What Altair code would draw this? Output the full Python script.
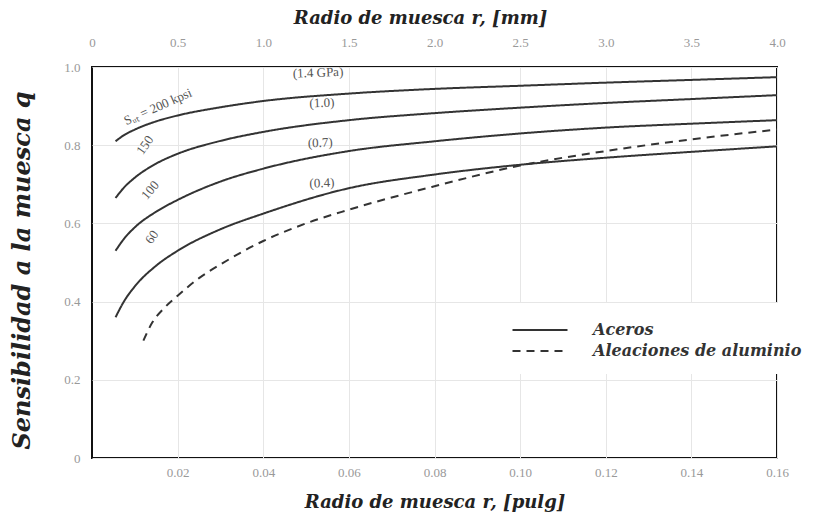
import altair as alt
import pandas as pd

# ---- data ----
r_steel = [0.0055, 0.0075, 0.01, 0.015, 0.02, 0.03, 0.04, 0.06, 0.08, 0.10, 0.12, 0.14, 0.16]
q_200 = [0.81, 0.826, 0.840, 0.861, 0.876, 0.897, 0.913, 0.932, 0.944, 0.952, 0.96, 0.967, 0.974]
q_150 = [0.665, 0.692, 0.717, 0.753, 0.778, 0.811, 0.834, 0.864, 0.882, 0.896, 0.908, 0.918, 0.928]
q_100 = [0.53, 0.561, 0.59, 0.63, 0.66, 0.707, 0.74, 0.785, 0.81, 0.83, 0.845, 0.855, 0.864]
q_60 = [0.36, 0.401, 0.439, 0.492, 0.53, 0.585, 0.625, 0.69, 0.725, 0.75, 0.768, 0.783, 0.797]

r_alum = [0.012, 0.014, 0.017, 0.02, 0.025, 0.03, 0.04, 0.05, 0.06, 0.08, 0.10, 0.12, 0.14, 0.16]
q_alum = [0.30, 0.345, 0.385, 0.415, 0.46, 0.495, 0.555, 0.60, 0.635, 0.695, 0.748, 0.785, 0.815, 0.84]

curve_names = ["200", "150", "100", "60"]
label_texts = ["Sᵤₜ = 200 kpsi", "150", "100", "60", "(1.4 GPa)", "(1.0)", "(0.7)", "(0.4)"]
label_r = [0.0154, 0.0124, 0.0136, 0.014, 0.0528, 0.0537, 0.0533, 0.0537]
label_q = [0.898, 0.80, 0.685, 0.565, 0.985, 0.908, 0.806, 0.703]
label_angle = [336, 305, 310, 305, 358, 358, 358, 358]

x_ticks_in = [0.02, 0.04, 0.06, 0.08, 0.10, 0.12, 0.14, 0.16]
x_ticks_mm = [0, 0.5, 1.0, 1.5, 2.0, 2.5, 3.0, 3.5, 4.0]
y_ticks = [0, 0.2, 0.4, 0.6, 0.8, 1.0]

rows = []
for name, qs in zip(curve_names, [q_200, q_150, q_100, q_60]):
    for r, q in zip(r_steel, qs):
        rows.append({"r": r, "q": q, "curve": name, "tipo": "Aceros"})
for r, q in zip(r_alum, q_alum):
    rows.append({"r": r, "q": q, "curve": "al", "tipo": "Aleaciones de aluminio"})
df = pd.DataFrame(rows)

lab_df = pd.DataFrame({"r": label_r, "q": label_q, "t": label_texts, "ang": label_angle})
mm_df = pd.DataFrame({"mm": [0.0, 4.0]})

TITLE_FONT = "DejaVu Serif"
TICK_FONT = "Liberation Serif"

xscale = alt.Scale(domain=[0, 0.16], nice=False, zero=False)
yscale = alt.Scale(domain=[0, 1.0], nice=False)

X_IN = alt.X("r:Q", scale=xscale,
             axis=alt.Axis(values=x_ticks_in, format=".2f", title="Radio de muesca r, [pulg]",
                           titleY=44, titleBaseline="middle", titleFontSize=18,
                           labelPadding=8, labelFlush=False))
Y_Q = alt.Y("q:Q", scale=yscale,
            axis=alt.Axis(values=y_ticks, title="Sensibilidad a la muesca q",
                          labelExpr="datum.value == 0 ? '0' : format(datum.value, '.1f')",
                          titleX=-70, titleY=203, titleBaseline="middle", titleAlign="center",
                          titleFontSize=24, labelPadding=12))

lines = alt.Chart(df).mark_line(interpolate="monotone", strokeWidth=2, color="#333333").encode(
    x=X_IN,
    y=Y_Q,
    detail="curve:N",
    strokeDash=alt.StrokeDash(
        "tipo:N",
        scale=alt.Scale(domain=["Aceros", "Aleaciones de aluminio"], range=[[1, 0], [8, 6]]),
        legend=alt.Legend(title=None, orient="none", legendX=421, legendY=236,
                          symbolType="M-2.5,0H2.5", symbolSize=484, symbolStrokeWidth=2,
                          symbolStrokeColor="#333333", symbolFillColor="transparent",
                          labelFont=TITLE_FONT,
                          labelFontSize=16, labelFontStyle="italic", labelFontWeight="bold",
                          labelColor="#333333", labelOffset=41, rowPadding=1,
                          fillColor="white", padding=15, labelLimit=400)),
)

texts = alt.Chart(lab_df).mark_text(font=TICK_FONT, fontSize=13, color="#555555").encode(
    x=X_IN,
    y=Y_Q,
    text="t:N",
    angle=alt.Angle("ang:Q", scale=None),
)

top = alt.Chart(mm_df).mark_point(opacity=0).encode(
    x=alt.X("mm:Q", scale=alt.Scale(domain=[0, 4.0], nice=False),
            axis=alt.Axis(orient="top", values=x_ticks_mm, grid=False, labelFlush=False,
                          labelExpr="datum.value == 0 ? '0' : format(datum.value, '.1f')",
                          title="Radio de muesca r, [mm]", titleY=-49, titleX=328,
                          titleAlign="center", titleBaseline="middle",
                          titleFontSize=18, labelPadding=18)),
)

chart = alt.layer(alt.layer(lines, texts), top).resolve_scale(x="independent").properties(
    width=685, height=391,
    autosize=alt.AutoSizeParams(type="none"),
    padding={"left": 84, "top": 59, "right": 40, "bottom": 58},
).configure_view(
    stroke="#111111", strokeWidth=2
).configure_axis(
    domain=False, ticks=False, grid=True, gridColor="#e6e6e6", gridWidth=1,
    labelColor="#999999", labelFont=TICK_FONT, labelFontSize=13,
    titleFont=TITLE_FONT, titleFontStyle="italic", titleFontWeight="bold", titleColor="#222222",
)

chart.save("out.html", embed_options={"renderer": "svg", "actions": False})
